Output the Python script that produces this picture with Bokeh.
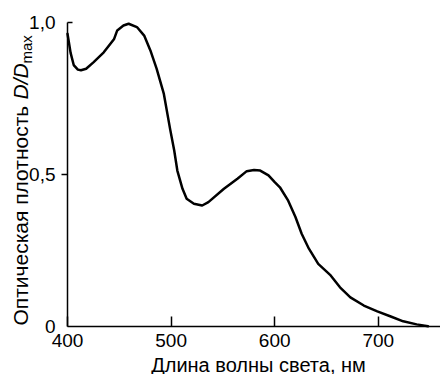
import math
from bokeh.plotting import figure
from bokeh.models import FixedTicker, Label, Range1d, LinearAxis
from bokeh.embed import file_html
from bokeh.resources import INLINE

# ---- data ----
wavelength_nm = [400, 403, 406, 410, 413, 418, 425, 435, 445, 448, 454, 459, 467, 474,
                 480, 486, 493, 499, 503, 506, 511, 515, 522, 530, 536, 551, 564, 573,
                 580, 586, 594, 600, 605, 613, 620, 626, 633, 642, 654, 663, 673, 686,
                 699, 712, 724, 737, 748]
optical_density = [0.963, 0.90, 0.86, 0.845, 0.843, 0.848, 0.869, 0.902, 0.946, 0.974,
                   0.99, 0.996, 0.985, 0.957, 0.908, 0.848, 0.765, 0.65, 0.579, 0.513,
                   0.453, 0.42, 0.404, 0.398, 0.409, 0.453, 0.486, 0.511, 0.515, 0.513,
                   0.497, 0.475, 0.458, 0.414, 0.36, 0.305, 0.256, 0.206, 0.168, 0.129,
                   0.096, 0.069, 0.05, 0.033, 0.017, 0.007, 0.001]
x_ticks = [400, 500, 600, 700]
x_tick_labels = ["400", "500", "600", "700"]
y_ticks = [0, 0.5, 1.0]
y_tick_labels = ["0", "0,5", "1,0"]
x_title = "Длина волны света, нм"
y_title_main = "Оптическая плотность "
y_title_var = "D/D"
y_title_sub = "max"

FONT = "Liberation Sans"
W, H = 440, 374
# pixel geometry of the plotting area inside the canvas
AX_LEFT_PX, AX_BOTTOM_PX, AX_TOP_PX = 67, 326, 22
X0, X_AXIS_END = 400, 760
Y0, Y1 = 0.0, 1.0
px_per_nm = (W - AX_LEFT_PX) / (X_AXIS_END - X0)
px_per_unit = (AX_BOTTOM_PX - AX_TOP_PX) / (Y1 - Y0)

x_range = Range1d(X0 - AX_LEFT_PX / px_per_nm, X_AXIS_END)
y_range = Range1d(Y0 - (H - AX_BOTTOM_PX) / px_per_unit, Y1 + AX_TOP_PX / px_per_unit)

p = figure(width=W, height=H, output_backend="svg", toolbar_location=None,
           x_range=x_range, y_range=y_range, x_axis_type=None, y_axis_type=None,
           min_border=0)
p.outline_line_color = None
p.grid.visible = False
p.background_fill_color = "white"
p.border_fill_color = "white"

p.line(wavelength_nm, optical_density, line_color="black", line_width=2.5,
       line_join="round", line_cap="round")

# x axis (placed at y = 0 inside the canvas)
xa = LinearAxis(fixed_location=Y0, bounds=(X0, X_AXIS_END))
xa.ticker = FixedTicker(ticks=x_ticks, minor_ticks=[])
xa.major_label_overrides = dict(zip(x_ticks, x_tick_labels))
xa.axis_line_color = "black"
xa.axis_line_width = 1.5
xa.major_tick_line_color = "black"
xa.major_tick_line_width = 1.5
xa.major_tick_in = 10
xa.major_tick_out = 0
xa.minor_tick_in = 0
xa.minor_tick_out = 0
xa.major_label_text_font = FONT
xa.major_label_text_font_size = "19px"
xa.major_label_text_color = "black"
xa.major_label_standoff = 7
p.add_layout(xa, "below")

# y axis (placed at x = 400)
ya = LinearAxis(fixed_location=X0, bounds=(Y0, Y1))
ya.ticker = FixedTicker(ticks=y_ticks, minor_ticks=[y_ticks[1]])
ya.major_label_overrides = dict(zip(y_ticks, y_tick_labels))
ya.axis_line_color = "black"
ya.axis_line_width = 1.5
ya.major_tick_in = 0
ya.major_tick_out = 0
ya.minor_tick_in = 0
ya.minor_tick_out = 6
ya.minor_tick_line_color = "black"
ya.minor_tick_line_width = 1.5
ya.major_label_text_font = FONT
ya.major_label_text_font_size = "19px"
ya.major_label_text_color = "black"
ya.major_label_standoff = 6
p.add_layout(ya, "left")

# inward tick at the top of the y axis
p.segment(x0=[X0], y0=[y_ticks[-1]], x1=[X0 + 5 / px_per_nm], y1=[y_ticks[-1]],
          line_color="black", line_width=1.5)


def page_x(px):
    return X0 + (px - AX_LEFT_PX) / px_per_nm


def page_y(py):
    return Y0 + (AX_BOTTOM_PX - py) / px_per_unit


# x title
p.add_layout(Label(x=page_x(258), y=page_y(364),
                   text=x_title, text_align="center", text_baseline="middle",
                   text_font=FONT, text_font_size="20px", text_color="black"))

# y title (rotated, composed from pieces)
p.add_layout(Label(x=page_x(20), y=page_y(325), angle=math.pi / 2,
                   text=y_title_main, text_align="left", text_baseline="middle",
                   text_font=FONT, text_font_size="21px", text_color="black"))
p.add_layout(Label(x=page_x(20), y=page_y(99), angle=math.pi / 2,
                   text=y_title_var, text_align="left", text_baseline="middle",
                   text_font=FONT, text_font_size="21px", text_font_style="italic",
                   text_color="black"))
p.add_layout(Label(x=page_x(26), y=page_y(63), angle=math.pi / 2,
                   text=y_title_sub, text_align="left", text_baseline="middle",
                   text_font=FONT, text_font_size="15px", text_color="black"))

open("out.html", "w").write(file_html(p, INLINE))
